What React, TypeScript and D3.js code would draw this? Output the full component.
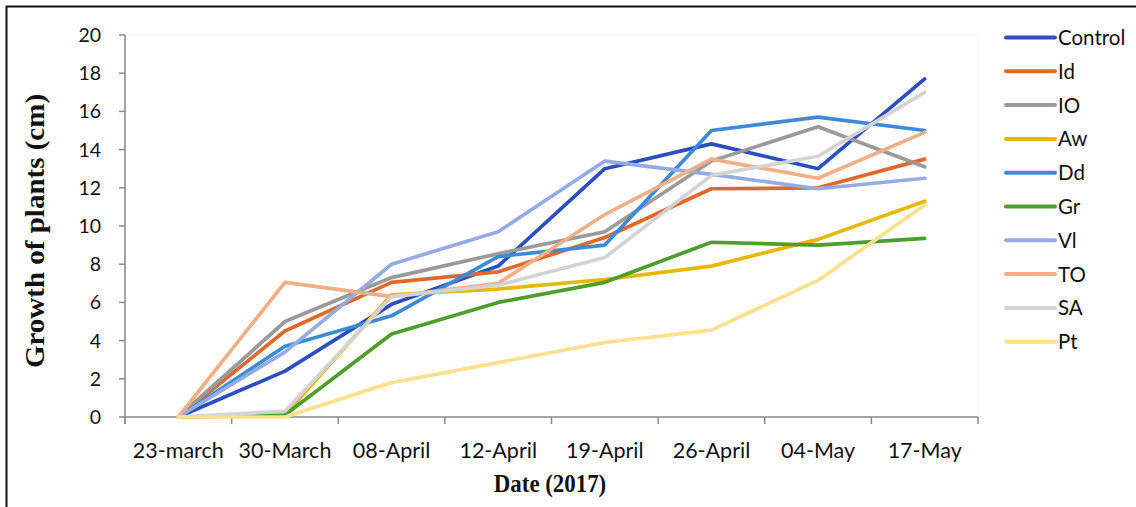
import React from "react";
import * as d3 from "d3";

const categories = ["23-march", "30-March", "08-April", "12-April", "19-April", "26-April", "04-May", "17-May"];
const yTicks = [0, 2, 4, 6, 8, 10, 12, 14, 16, 18, 20];

const seriesNames = ["Control", "Id", "IO", "Aw", "Dd", "Gr", "Vl", "TO", "SA", "Pt"];
const seriesColors = ["#2B4FBF", "#E2682A", "#9A9A9A", "#E8B800", "#3C8BD6", "#4E9E2C", "#94ACE3", "#F2AE85", "#D3D3D3", "#FBE08E"];

const control = [0, 2.4, 5.9, 7.9, 13.0, 14.3, 13.0, 17.7];
const id = [0, 4.5, 7.05, 7.6, 9.4, 11.95, 12.0, 13.5];
const io = [0, 5.0, 7.3, 8.55, 9.7, 13.4, 15.2, 13.1];
const aw = [0, 0.1, 6.4, 6.7, 7.2, 7.9, 9.3, 11.3];
const dd = [0, 3.7, 5.3, 8.4, 9.0, 15.0, 15.7, 15.0];
const gr = [0, 0.1, 4.35, 6.0, 7.05, 9.15, 9.0, 9.35];
const vl = [0, 3.4, 8.0, 9.7, 13.4, 12.7, 11.95, 12.5];
const to = [0, 7.05, 6.3, 7.0, 10.6, 13.5, 12.5, 14.9];
const sa = [0, 0.3, 6.3, 6.9, 8.35, 12.65, 13.65, 17.0];
const pt = [0, 0, 1.8, 2.85, 3.9, 4.55, 7.15, 11.1];

const seriesValues = [control, id, io, aw, dd, gr, vl, to, sa, pt];

export default function App() {
  const W = 1136, H = 507;
  const left = 125, right = 978, top = 35, bottom = 417;
  const x = d3.scaleBand<string>().domain(categories).range([left, right]).padding(0);
  const bw = x.bandwidth();
  const y = d3.scaleLinear().domain([0, 20]).range([bottom, top]);
  const line = d3.line<number>().x((_, i) => (x(categories[i]) as number) + bw / 2).y((d) => y(d));
  const axisColor = "#8a8a8a";
  const tickFont = "Lato, 'Open Sans', sans-serif";
  const serif = "'Liberation Serif', 'Times New Roman', serif";
  const edges = [...categories.map((c) => x(c) as number), right];

  return (
    <svg width={W} height={H} style={{ position: "absolute", left: 0, top: 0, background: "#fff" }}>
      <rect x={0} y={0} width={W} height={H} fill="#fff" />
      <line x1={6} y1={6.5} x2={W} y2={6.5} stroke="#111" strokeWidth={2} />
      <line x1={6.5} y1={6} x2={6.5} y2={H} stroke="#111" strokeWidth={2} />
      <rect x={left} y={top} width={right - left} height={bottom - top} fill="none" stroke="#efefef" strokeWidth={1} />

      {/* y axis */}
      <line x1={left} y1={top} x2={left} y2={bottom + 7} stroke={axisColor} strokeWidth={1.5} />
      {yTicks.map((t) => (
        <g key={t}>
          <line x1={left - 6} x2={left} y1={y(t)} y2={y(t)} stroke={axisColor} strokeWidth={1.5} />
          <text x={101} y={y(t) + 7} textAnchor="end" fontFamily={tickFont} fontSize={19.5} fill="#111">{t}</text>
        </g>
      ))}

      {/* x axis */}
      <line x1={left} y1={bottom} x2={right} y2={bottom} stroke={axisColor} strokeWidth={1.5} />
      {edges.map((e, i) => (
        <line key={i} x1={e} x2={e} y1={bottom} y2={bottom + 7} stroke={axisColor} strokeWidth={1.5} />
      ))}
      {categories.map((c) => (
        <text key={c} x={(x(c) as number) + bw / 2} y={458} textAnchor="middle" fontFamily={tickFont} fontSize={21.5} fill="#111">{c}</text>
      ))}

      {/* series */}
      {seriesValues.map((vals, i) => (
        <path key={seriesNames[i]} d={line(vals) || ""} fill="none" stroke={seriesColors[i]} strokeWidth={3.7} strokeLinejoin="round" strokeLinecap="round" />
      ))}

      {/* titles */}
      <text transform={`translate(550,492) scale(0.88,1)`} textAnchor="middle" fontFamily={serif} fontWeight="bold" fontSize={26} fill="#111">Date (2017)</text>
      <text transform={`translate(44,231) scale(0.93,1) rotate(-90)`} textAnchor="middle" fontFamily={serif} fontWeight="bold" fontSize={29} fill="#111">Growth of plants (cm)</text>

      {/* legend */}
      {seriesNames.map((n, i) => {
        const ly = 37.5 + i * 33.8;
        return (
          <g key={n}>
            <line x1={1006} x2={1055} y1={ly} y2={ly} stroke={seriesColors[i]} strokeWidth={4} strokeLinecap="round" />
            <text x={1058} y={ly + 7.5} fontFamily={tickFont} fontSize={20.5} fill="#111">{n}</text>
          </g>
        );
      })}
    </svg>
  );
}
